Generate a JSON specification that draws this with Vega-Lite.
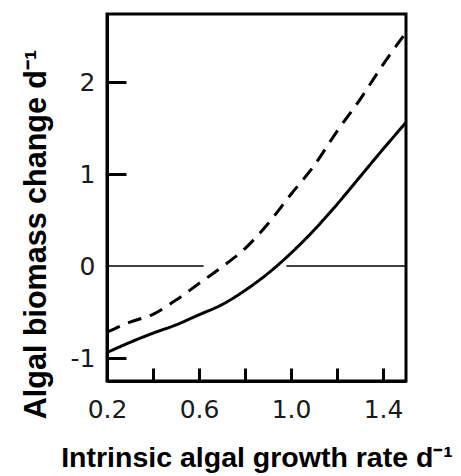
{
  "$schema": "https://vega.github.io/schema/vega-lite/v6.json",
  "width": 299,
  "height": 367,
  "autosize": "none",
  "padding": {"left": 107, "top": 14, "right": 55, "bottom": 95},
  "background": "white",
  "config": {
    "view": {"stroke": "black", "strokeWidth": 3},
    "axis": {
      "grid": false,
      "domainColor": "black",
      "domainWidth": 3,
      "tickColor": "black",
      "tickWidth": 3,
      "tickCap": "butt",
      "labelFont": "DejaVu Sans",
      "labelFontSize": 25,
      "labelColor": "#1a1a1a",
      "labelFlush": false,
      "labelOverlap": false,
      "titleFont": "Liberation Sans",
      "titleFontWeight": "bold",
      "titleColor": "black"
    }
  },
  "datasets": {
    "curves": [
      {"rate": 0.2, "change": -0.94, "scenario": "solid"},
      {"rate": 0.3, "change": -0.83, "scenario": "solid"},
      {"rate": 0.4, "change": -0.73, "scenario": "solid"},
      {"rate": 0.5, "change": -0.64, "scenario": "solid"},
      {"rate": 0.6, "change": -0.53, "scenario": "solid"},
      {"rate": 0.7, "change": -0.42, "scenario": "solid"},
      {"rate": 0.8, "change": -0.265, "scenario": "solid"},
      {"rate": 0.9, "change": -0.08, "scenario": "solid"},
      {"rate": 1.0, "change": 0.14, "scenario": "solid"},
      {"rate": 1.1, "change": 0.39, "scenario": "solid"},
      {"rate": 1.2, "change": 0.67, "scenario": "solid"},
      {"rate": 1.3, "change": 0.97, "scenario": "solid"},
      {"rate": 1.4, "change": 1.27, "scenario": "solid"},
      {"rate": 1.5, "change": 1.56, "scenario": "solid"},
      {"rate": 0.2, "change": -0.72, "scenario": "dashed"},
      {"rate": 0.3, "change": -0.61, "scenario": "dashed"},
      {"rate": 0.4, "change": -0.525, "scenario": "dashed"},
      {"rate": 0.5, "change": -0.37, "scenario": "dashed"},
      {"rate": 0.6, "change": -0.19, "scenario": "dashed"},
      {"rate": 0.7, "change": -0.01, "scenario": "dashed"},
      {"rate": 0.8, "change": 0.19, "scenario": "dashed"},
      {"rate": 0.9, "change": 0.46, "scenario": "dashed"},
      {"rate": 1.0, "change": 0.78, "scenario": "dashed"},
      {"rate": 1.1, "change": 1.09, "scenario": "dashed"},
      {"rate": 1.2, "change": 1.465, "scenario": "dashed"},
      {"rate": 1.3, "change": 1.81, "scenario": "dashed"},
      {"rate": 1.4, "change": 2.19, "scenario": "dashed"},
      {"rate": 1.5, "change": 2.54, "scenario": "dashed"}
    ],
    "zeroLine": [
      {"rate": 0.2, "rate_end": 0.62, "change": 0},
      {"rate": 0.98, "rate_end": 1.5, "change": 0}
    ]
  },
  "encoding": {
    "x": {
      "field": "rate",
      "type": "quantitative",
      "scale": {"domain": [0.2, 1.5], "nice": false, "zero": false},
      "axis": {
        "values": [0.2, 0.4, 0.6, 0.8, 1.0, 1.2, 1.4],
        "tickSize": -13,
        "labelPadding": 29,
        "labelExpr": "indexof(['0.2', '0.6', '1.0', '1.4'], format(datum.value, '.1f')) >= 0 ? format(datum.value, '.1f') : ''",
        "title": "Intrinsic algal growth rate d⁻¹",
        "titleFontSize": 28.5,
        "titleY": 85,
        "titleBaseline": "alphabetic"
      }
    },
    "y": {
      "field": "change",
      "type": "quantitative",
      "scale": {"domain": [-1.25, 2.74], "nice": false, "zero": false},
      "axis": {
        "values": [-1, 0, 1, 2],
        "tickSize": -19,
        "tickOpacity": {"condition": {"test": "datum.value === 0", "value": 0}, "value": 1},
        "labelPadding": 31,
        "labelExpr": "datum.value < 0 ? '-' + format(-datum.value, 'd') : format(datum.value, 'd')",
        "title": "Algal biomass change d⁻¹",
        "titleFontSize": 30.5,
        "titleAngle": 270,
        "titleX": -62,
        "titleY": 220,
        "titleAlign": "center",
        "titleBaseline": "alphabetic"
      }
    }
  },
  "layer": [
    {
      "data": {"name": "zeroLine"},
      "mark": {"type": "rule", "color": "black", "strokeWidth": 1.6},
      "encoding": {"x2": {"field": "rate_end"}}
    },
    {
      "data": {"name": "curves"},
      "mark": {"type": "line", "color": "black", "strokeWidth": 3, "interpolate": "monotone"},
      "encoding": {
        "strokeDash": {
          "field": "scenario",
          "type": "nominal",
          "scale": {"domain": ["solid", "dashed"], "range": [[1, 0], [14, 9]]},
          "legend": null
        }
      }
    }
  ]
}
